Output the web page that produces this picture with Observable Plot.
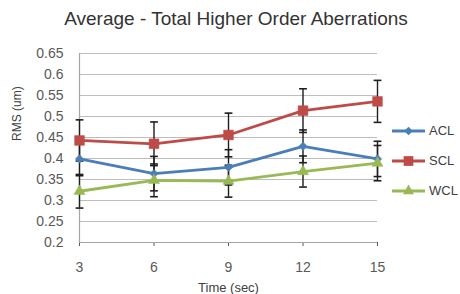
<!DOCTYPE html>
<html>
<head>
<meta charset="utf-8">
<script src="https://cdn.jsdelivr.net/npm/d3@7"></script>
<script src="https://cdn.jsdelivr.net/npm/@observablehq/plot@0.6"></script>
<style>
  html, body { margin: 0; padding: 0; background: #fff; }
  #wrap { position: relative; width: 460px; height: 294px; font-family: "Liberation Sans", Arial, sans-serif; }
  #title { position: absolute; left: 6px; top: 8px; width: 460px; text-align: center; font-size: 19px; line-height: 22px; color: #333; }
  #chart { position: absolute; left: 0; top: 0; }
  #legend { position: absolute; left: 391px; top: 0; }
  .lg { position: absolute; left: 0; display: flex; align-items: center; font-size: 13px; color: #404040; white-space: nowrap; }
  .lg svg { margin-right: 3px; }
</style>
</head>
<body>
<div id="wrap">
  <div id="chart"></div>
  <div id="title">Average - Total Higher Order Aberrations</div>
  <div id="legend"></div>
</div>
<script>
// ---- data ----
const times = [3, 6, 9, 12, 15];
const seriesNames = ["ACL", "SCL", "WCL"];
const acl = [0.399, 0.364, 0.379, 0.429, 0.399];
const scl = [0.443, 0.435, 0.456, 0.514, 0.536];
const wcl = [0.322, 0.348, 0.346, 0.369, 0.389];
const aclErr = [0.040, 0.041, 0.042, 0.039, 0.042];
const sclErr = [0.049, 0.052, 0.052, 0.052, 0.050];
const wclErr = [0.040, 0.039, 0.038, 0.037, 0.042];
const yTicks = [0.2, 0.25, 0.3, 0.35, 0.4, 0.45, 0.5, 0.55, 0.6, 0.65];
const xTicks = [3, 6, 9, 12, 15];
const xLabel = "Time (sec)";
const yLabel = "RMS (um)";
const title = "Average - Total Higher Order Aberrations";

// ---- styles ----
const colors = ["#4A7EBB", "#BE4B48", "#98B954"];
const symbols = ["diamond2", "square", "triangle"];
const radii = [3.8, 5.5, 4.1];

const values = [acl, scl, wcl];
const errs = [aclErr, sclErr, wclErr];
const rows = [];
seriesNames.forEach((s, i) => times.forEach((t, j) => {
  rows.push({series: s, time: t, value: values[i][j], lo: values[i][j] - errs[i][j], hi: values[i][j] + errs[i][j]});
}));

document.getElementById("title").textContent = title;

const capSymbol = {
  draw(context, size) {
    const w = Math.sqrt(size);
    context.moveTo(-w / 2, 0);
    context.lineTo(w / 2, 0);
  }
};

const dotMarks = seriesNames.map((s, i) =>
  Plot.dot(rows.filter(d => d.series === s), {
    x: "time", y: "value", symbol: symbols[i], r: radii[i],
    fill: colors[i], stroke: colors[i], strokeWidth: 0.5
  })
);

const chart = Plot.plot({
  width: 460,
  height: 294,
  marginLeft: 79,
  marginRight: 83,
  marginTop: 53,
  marginBottom: 52,
  style: { fontFamily: "'Liberation Sans', Arial, sans-serif", fontSize: "14px", color: "#595959", background: "transparent", overflow: "visible" },
  x: { domain: [3, 15], ticks: xTicks, tickSize: 4, tickPadding: 16, label: null, tickFormat: d => String(d) },
  y: { domain: [0.2, 0.65], ticks: yTicks, tickSize: 0, tickPadding: 16, label: null, tickFormat: d => String(d) },
  color: { domain: seriesNames, range: colors },
  marks: [
    Plot.ruleY(yTicks, { stroke: "#bdbdbd", strokeWidth: 1.2 }),
    Plot.ruleX([3], { stroke: "#a6a6a6", strokeWidth: 1.2 }),
    Plot.ruleY([0.2], { stroke: "#a6a6a6", strokeWidth: 1.2 }),
    Plot.ruleX(rows, { x: "time", y1: "lo", y2: "hi", stroke: "#1e1e1e", strokeWidth: 1.4 }),
    Plot.dot(rows, { x: "time", y: "lo", symbol: capSymbol, r: 4.4, stroke: "#1e1e1e", strokeWidth: 1.6 }),
    Plot.dot(rows, { x: "time", y: "hi", symbol: capSymbol, r: 4.4, stroke: "#1e1e1e", strokeWidth: 1.6 }),
    Plot.line(rows, { x: "time", y: "value", z: "series", stroke: "series", strokeWidth: 2.8 }),
    ...dotMarks,
    Plot.text([xLabel], { text: d => d, frameAnchor: "bottom", lineAnchor: "middle", dy: 45, fontSize: 13, fill: "#404040" }),
    Plot.text([yLabel], { text: d => d, frameAnchor: "left", lineAnchor: "middle", rotate: -90, dx: -62, dy: -7, fontSize: 12, fill: "#404040" })
  ]
});
document.getElementById("chart").appendChild(chart);

// ---- legend ----
const legend = document.getElementById("legend");
const legendTops = [130, 160, 190];
const ns = "http://www.w3.org/2000/svg";
seriesNames.forEach((s, i) => {
  const row = document.createElement("div");
  row.className = "lg";
  row.style.top = (legendTops[i] - 7) + "px";
  const svg = document.createElementNS(ns, "svg");
  svg.setAttribute("width", 35); svg.setAttribute("height", 14);
  const ln = document.createElementNS(ns, "line");
  ln.setAttribute("x1", 1); ln.setAttribute("x2", 34); ln.setAttribute("y1", 7); ln.setAttribute("y2", 7);
  ln.setAttribute("stroke", colors[i]); ln.setAttribute("stroke-width", 2.8);
  svg.appendChild(ln);
  const p = document.createElementNS(ns, "path");
  const sym = { diamond2: d3.symbolDiamond2, square: d3.symbolSquare, triangle: d3.symbolTriangle }[symbols[i]];
  p.setAttribute("d", d3.symbol(sym, Math.PI * radii[i] * radii[i])());
  p.setAttribute("transform", "translate(17.5,7)");
  p.setAttribute("fill", colors[i]);
  svg.appendChild(p);
  row.appendChild(svg);
  const t = document.createElement("span");
  t.textContent = s;
  row.appendChild(t);
  legend.appendChild(row);
});
</script>
</body>
</html>
